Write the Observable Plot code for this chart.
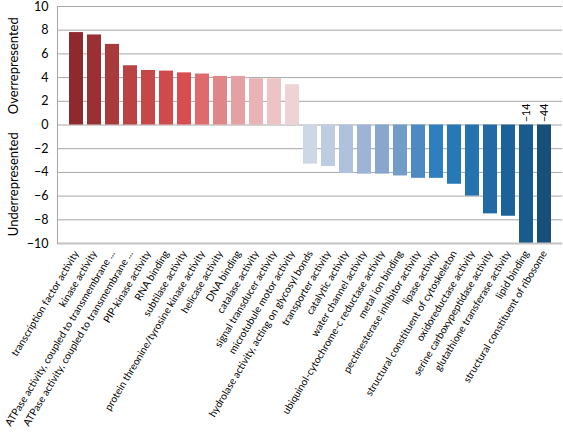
<!DOCTYPE html>
<html><head><meta charset="utf-8">
<script src="https://cdn.jsdelivr.net/npm/d3@7"></script>
<script src="https://cdn.jsdelivr.net/npm/@observablehq/plot@0.6"></script>
<style>body{margin:0;background:#fff}</style>
</head><body><div id="chart"></div>
<script>
const categories = [
  "transcription factor activity",
  "kinase activity",
  "ATPase activity, coupled to transmembrane ...",
  "ATPase activity, coupled to transmembrane ...",
  "PIP-kinase activity",
  "RNA binding",
  "subtilase activity",
  "protein threonine/tyrosine kinase activity",
  "helicase activity",
  "DNA binding",
  "catalase activity",
  "signal transducer activity",
  "microtubule motor activity",
  "hydrolase activity, acting on glycosyl bonds",
  "transporter activity",
  "catalytic activity",
  "water channel activity",
  "ubiquinol-cytochrome-c reductase activity",
  "metal ion binding",
  "pectinesterase inhibitor activity",
  "lipase activity",
  "structural constituent of cytoskeleton",
  "oxidoreductase activity",
  "serine carboxypeptidase activity",
  "glutathione transferase activity",
  "lipid binding",
  "structural constituent of ribosome"
];
const values = [7.8, 7.6, 6.8, 5.0, 4.6, 4.55, 4.4, 4.3, 4.1, 4.1, 3.9, 3.9, 3.4,
  -3.3, -3.5, -4.1, -4.15, -4.15, -4.3, -4.5, -4.5, -5.0, -6.0, -7.5, -7.7, -14, -44];
const barColors = [
  "#8e2a2e", "#9a3034", "#a93a3c", "#bb4244", "#c64748", "#cf4a4b", "#d84d4f",
  "#de6a6c", "#e08688", "#e4a0a2", "#e9b3b5", "#ecc4c6", "#eed3d5",
  "#cdd7e6", "#becce2", "#b0c1dd", "#9db4d6", "#89a6ce", "#729dc9", "#4d8ac4",
  "#2f7fbe", "#2679b5", "#2473ae", "#226aa6", "#1d619a", "#195b8c", "#164f78"
];
const yTicks = [-10, -8, -6, -4, -2, 0, 2, 4, 6, 8, 10];
const yTitles = [
  {y: 5, text: "Overrepresented"},
  {y: -5, text: "Underrepresented"}
];

const data = categories.map((c, i) => ({i, c, v: values[i], color: barColors[i]}));
const clipped = data.filter(d => d.v < -10);

const plot = Plot.plot({
  width: 563, height: 437,
  marginLeft: 57, marginRight: 1, marginTop: 6, marginBottom: 194,
  style: {fontFamily: "Lato, sans-serif", background: "#fff", color: "#000"},
  x: {type: "band", domain: d3.range(categories.length), padding: 0.25, axis: null},
  y: {domain: [-10, 10], clamp: true, axis: null},
  marks: [
    Plot.ruleY(yTicks.filter(t => t > -10), {stroke: "#a6a6a6", strokeWidth: 1}),
    Plot.barY(data, {x: "i", y: "v", fill: "color"}),
    Plot.ruleY([-10], {stroke: "#c4c4c4", strokeWidth: 2}),
    Plot.frame({anchor: "left", stroke: "#a6a6a6"}),
    Plot.axisY({ticks: yTicks, tickSize: 0, tickPadding: 9, fontSize: 12.5, label: null}),
    Plot.axisX({tickFormat: i => categories[i], tickRotate: -59, tickSize: 0, tickPadding: 8, fontSize: 10.2, label: null}),
    Plot.text(clipped, {x: "i", y: 0, text: d => d3.format("d")(d.v), rotate: -90, textAnchor: "start", dy: -3, fontSize: 10.5}),
    Plot.text(yTitles, {y: "y", text: "text", frameAnchor: "left", textAnchor: "middle", dx: -44, rotate: -90, fontSize: 13})
  ]
});
document.getElementById("chart").appendChild(plot);
</script>
</body></html>
